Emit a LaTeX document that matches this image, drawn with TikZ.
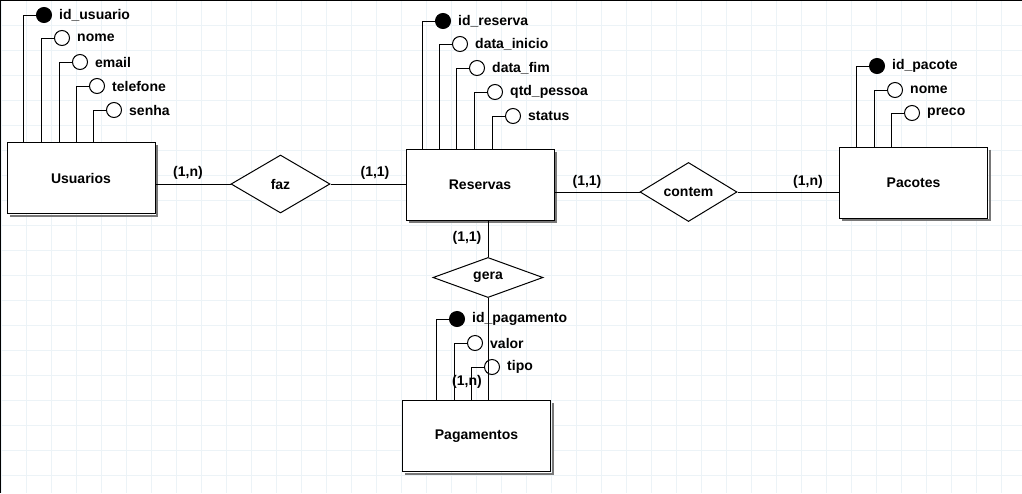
\documentclass[tikz,border=0pt]{standalone}
\usepackage{fontspec}
\setmainfont{Liberation Sans}
\usepackage{xcolor}
\usepackage{tikz}
\usetikzlibrary{shapes.geometric}
\definecolor{gridblue}{RGB}{236,243,247}
\definecolor{shadowgray}{RGB}{120,120,120}

\begin{document}
\begin{tikzpicture}[x=1pt, y=-1pt,
	every node/.style={font=\fontsize{14}{16}\selectfont\bfseries},
	entity/.style={draw, line width=1pt, fill=white, minimum width=148pt, minimum height=71pt},
	shade/.style={draw=shadowgray, line width=2pt},
	rel/.style={diamond, draw, line width=1pt, fill=white, inner sep=0pt},
	keyattr/.style={circle, draw, line width=1pt, fill=black, minimum size=15pt, inner sep=0pt},
	attr/.style={circle, draw, line width=1pt, fill=white, minimum size=15pt, inner sep=0pt},
	attrtxt/.style={anchor=west, inner xsep=7pt, inner ysep=0pt},
	link/.style={line width=1pt}]
			%   %   %   %   %   %   %   %   %   %   %
			%   Sheet
				\useasboundingbox (0,0) rectangle (1022,493);
				\fill[white] (0,0) rectangle (1022,493);
				\draw[gridblue, line width=1pt, xshift=1pt, step=25pt] (-1,0) grid (1022,493);
				\draw[line width=2.5pt] (0,493) -- (0,0) -- (1022,0);
			%   %   %   %   %   %   %   %   %   %   %
			%   Usuarios
				\node[entity] (usuarios) at (81,178) {Usuarios};
				\draw[shade] ([shift={(1.5,3)}]usuarios.north east) |- ([shift={(3,1.5)}]usuarios.south west);
				\node[keyattr] (u-id) at (44,15) {};
				\node[attrtxt] (u-id-t) at (u-id.east) {id\_usuario};
				\draw[link] (u-id.west) -- ++(-12.5,0) coordinate (u-id-c) -- (u-id-c |- usuarios.north);
				\node[attr] (u-nome) at (62,38) {};
				\node[attrtxt] (u-nome-t) at (u-nome.east) {nome};
				\draw[link] (u-nome.west) -- ++(-12.5,0) coordinate (u-nome-c) -- (u-nome-c |- usuarios.north);
				\node[attr] (u-email) at (80,62) {};
				\node[attrtxt] (u-email-t) at (u-email.east) {email};
				\draw[link] (u-email.west) -- ++(-12.5,0) coordinate (u-email-c) -- (u-email-c |- usuarios.north);
				\node[attr] (u-tel) at (97,86) {};
				\node[attrtxt] (u-tel-t) at (u-tel.east) {telefone};
				\draw[link] (u-tel.west) -- ++(-12.5,0) coordinate (u-tel-c) -- (u-tel-c |- usuarios.north);
				\node[attr] (u-senha) at (114,110) {};
				\node[attrtxt] (u-senha-t) at (u-senha.east) {senha};
				\draw[link] (u-senha.west) -- ++(-12.5,0) coordinate (u-senha-c) -- (u-senha-c |- usuarios.north);
			%   %   %   %   %   %   %   %   %   %   %
			%   Usuarios -> faz -> Reservas
				\node[rel, minimum width=99pt, minimum height=58pt] (faz) at (280.5,184) {faz};
				\node[entity] (reservas) at (480,184.5) {Reservas};
				\draw[shade] ([shift={(1.5,3)}]reservas.north east) |- ([shift={(3,1.5)}]reservas.south west);
				\draw[link] (faz.west -| usuarios.east) -- (faz.west);
				\draw[link] (faz.east) -- (faz.east -| reservas.west);
				\node (c-uf) at (188,173) {(1,n)};
				\node (c-fr) at (375,173) {(1,1)};
			%   %   %   %   %   %   %   %   %   %   %
			%   Reservas attributes
				\node[keyattr] (r-id) at (443,21) {};
				\node[attrtxt] (r-id-t) at (r-id.east) {id\_reserva};
				\draw[link] (r-id.west) -- ++(-12.5,0) coordinate (r-id-c) -- (r-id-c |- reservas.north);
				\node[attr] (r-ini) at (460,44) {};
				\node[attrtxt] (r-ini-t) at (r-ini.east) {data\_inicio};
				\draw[link] (r-ini.west) -- ++(-12.5,0) coordinate (r-ini-c) -- (r-ini-c |- reservas.north);
				\node[attr] (r-fim) at (477,68) {};
				\node[attrtxt] (r-fim-t) at (r-fim.east) {data\_fim};
				\draw[link] (r-fim.west) -- ++(-12.5,0) coordinate (r-fim-c) -- (r-fim-c |- reservas.north);
				\node[attr] (r-qtd) at (495,92) {};
				\node[attrtxt] (r-qtd-t) at (r-qtd.east) {qtd\_pessoa};
				\draw[link] (r-qtd.west) -- ++(-12.5,0) coordinate (r-qtd-c) -- (r-qtd-c |- reservas.north);
				\node[attr] (r-status) at (513,116) {};
				\node[attrtxt] (r-status-t) at (r-status.east) {status};
				\draw[link] (r-status.west) -- ++(-12.5,0) coordinate (r-status-c) -- (r-status-c |- reservas.north);
			%   %   %   %   %   %   %   %   %   %   %
			%   Reservas -> contem -> Pacotes
				\node[rel, minimum width=97pt, minimum height=58pt] (contem) at (688.5,192) {contem};
				\node[entity] (pacotes) at (913.5,182.5) {Pacotes};
				\draw[shade] ([shift={(1.5,3)}]pacotes.north east) |- ([shift={(3,1.5)}]pacotes.south west);
				\draw[link] (contem.west -| reservas.east) -- (contem.west);
				\draw[link] (contem.east) -- (contem.east -| pacotes.west);
				\node (c-rc) at (587,182) {(1,1)};
				\node (c-cp) at (808,182) {(1,n)};
			%   %   %   %   %   %   %   %   %   %   %
			%   Pacotes attributes
				\node[keyattr] (p-id) at (877,66) {};
				\node[attrtxt] (p-id-t) at (p-id.east) {id\_pacote};
				\draw[link] (p-id.west) -- ++(-12.5,0) coordinate (p-id-c) -- (p-id-c |- pacotes.north);
				\node[attr] (p-nome) at (895,90) {};
				\node[attrtxt] (p-nome-t) at (p-nome.east) {nome};
				\draw[link] (p-nome.west) -- ++(-12.5,0) coordinate (p-nome-c) -- (p-nome-c |- pacotes.north);
				\node[attr] (p-preco) at (912,113) {};
				\node[attrtxt] (p-preco-t) at (p-preco.east) {preco};
				\draw[link] (p-preco.west) -- ++(-12.5,0) coordinate (p-preco-c) -- (p-preco-c |- pacotes.north);
			%   %   %   %   %   %   %   %   %   %   %
			%   Reservas -> gera -> Pagamentos
				\node[rel, minimum width=110pt, minimum height=39pt] (gera) at (488,277.5) {gera};
				\node[entity] (pagamentos) at (476.5,436) {Pagamentos};
				\draw[shade] ([shift={(1.5,3)}]pagamentos.north east) |- ([shift={(3,1.5)}]pagamentos.south west);
				\node[keyattr] (g-id) at (457,319) {};
				\node[attrtxt] (g-id-t) at (g-id.east) {id\_pagamento};
				\draw[link] (g-id.west) -- ++(-12.5,0) coordinate (g-id-c) -- (g-id-c |- pagamentos.north);
				\node[attr] (g-valor) at (475,343) {};
				\node[attrtxt] (g-valor-t) at (g-valor.east) {valor};
				\draw[link] (g-valor.west) -- ++(-12.5,0) coordinate (g-valor-c) -- (g-valor-c |- pagamentos.north);
				\node[attr] (g-tipo) at (492,367) {};
				\node[attrtxt] (g-tipo-t) at (g-tipo.east) {tipo};
				\draw[link] (g-tipo.west) -- ++(-12.5,0) coordinate (g-tipo-c) -- (g-tipo-c |- pagamentos.north);
				\draw[link] (gera.north |- reservas.south) -- (gera.north);
				\draw[link] (gera.south) -- (gera.south |- pagamentos.north);
				\node (c-rg) at (467,238) {(1,1)};
				\node (c-gp) at (467,382) {(1,n)};
		\end{tikzpicture}
\end{document}
